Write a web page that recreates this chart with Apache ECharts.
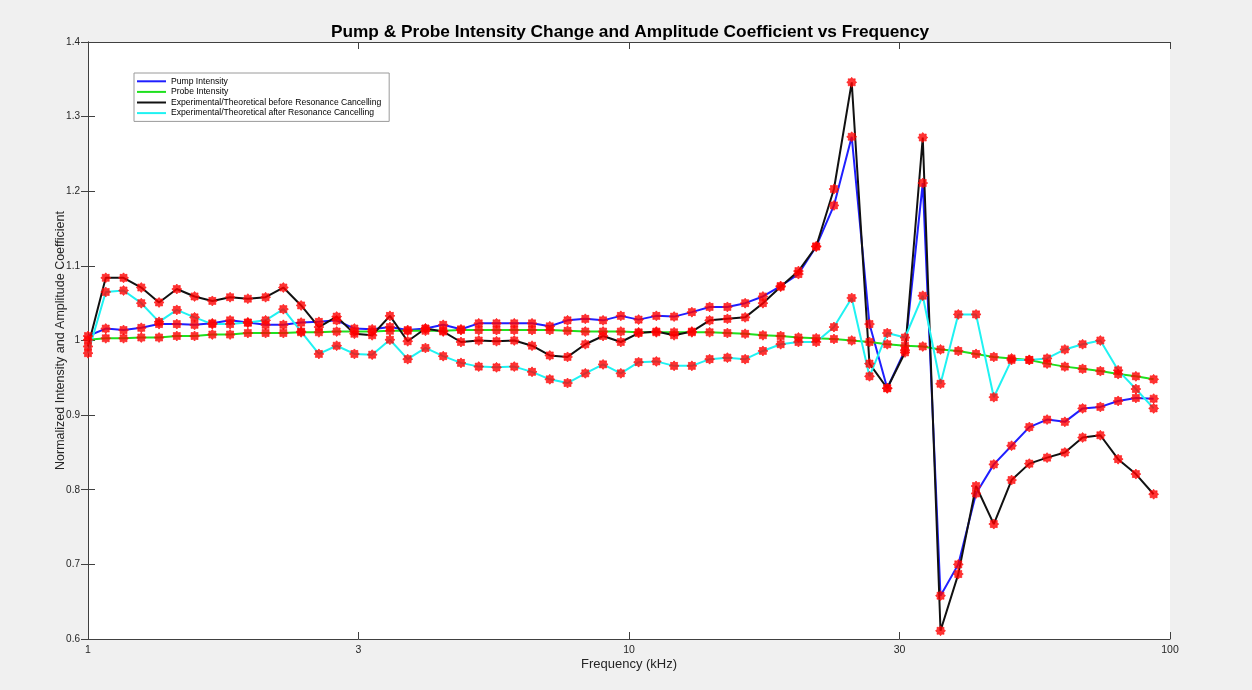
<!DOCTYPE html>
<html>
<head>
<meta charset="utf-8">
<script src="https://cdn.jsdelivr.net/npm/echarts@6/dist/echarts.min.js"></script>
<style>
html,body{margin:0;padding:0;background:#f0f0f0;}
#chart{width:1252px;height:690px;}
</style>
</head>
<body>
<div id="chart"></div>
<script>
// Frequencies (kHz)
const freqKHz = [1.000,1.0785,1.1633,1.2546,1.3531,1.4593,1.5739,1.6975,1.8308,1.9746,
  2.1296,2.2968,2.4772,2.6717,2.8815,3.1077,3.3518,3.6150,3.8988,4.2050,
  4.5352,4.8913,5.2754,5.6896,6.1364,6.6182,7.1379,7.6984,8.3029,8.9549,
  9.6581,10.417,11.234,12.116,13.068,14.094,15.201,16.394,17.682,19.070,
  20.568,22.183,23.925,25.803,27.829,30.015,32.372,34.913,37.655,40.612,
  43.801,47.240,50.949,54.950,59.265,63.919,68.938,74.351,80.190,86.486,93.277];

const pumpIntensity = [1.006,1.016,1.014,1.017,1.022,1.022,1.021,1.023,1.027,1.024,
  1.021,1.021,1.024,1.025,1.027,1.016,1.015,1.018,1.014,1.016,
  1.021,1.015,1.023,1.023,1.023,1.023,1.019,1.027,1.029,1.027,
  1.033,1.028,1.033,1.032,1.038,1.045,1.045,1.050,1.059,1.073,
  1.089,1.126,1.181,1.273,1.022,0.936,0.987,1.211,0.658,0.700,
  0.795,0.834,0.859,0.884,0.894,0.891,0.909,0.911,0.919,0.923,0.922];

const probeIntensity = [1.001,1.003,1.003,1.004,1.004,1.006,1.006,1.008,1.008,1.010,
  1.010,1.010,1.011,1.011,1.012,1.012,1.012,1.013,1.013,1.013,
  1.013,1.014,1.014,1.014,1.014,1.014,1.014,1.013,1.012,1.012,
  1.012,1.011,1.011,1.011,1.011,1.011,1.010,1.009,1.007,1.006,
  1.004,1.003,1.002,1.000,0.998,0.995,0.993,0.992,0.988,0.986,
  0.982,0.978,0.976,0.974,0.969,0.965,0.962,0.959,0.955,0.952,0.948];

const ratioBefore = [0.992,1.084,1.084,1.071,1.051,1.069,1.059,1.053,1.058,1.056,
  1.058,1.071,1.047,1.018,1.032,1.009,1.007,1.033,0.999,1.016,
  1.012,0.998,1.000,0.999,1.000,0.993,0.980,0.978,0.995,1.006,
  0.998,1.010,1.012,1.007,1.012,1.027,1.029,1.031,1.050,1.072,
  1.093,1.126,1.203,1.346,0.969,0.936,0.984,1.272,0.611,0.687,
  0.805,0.754,0.813,0.835,0.843,0.850,0.870,0.873,0.841,0.821,0.794];

const ratioAfter = [0.983,1.065,1.067,1.050,1.025,1.041,1.031,1.022,1.022,1.024,
  1.027,1.042,1.012,0.982,0.993,0.982,0.981,1.001,0.975,0.990,
  0.979,0.970,0.965,0.964,0.965,0.958,0.948,0.943,0.956,0.968,
  0.956,0.971,0.972,0.966,0.966,0.975,0.977,0.975,0.986,0.995,
  0.998,0.998,1.018,1.057,0.952,1.010,1.004,1.060,0.942,1.035,
  1.035,0.924,0.974,0.974,0.976,0.988,0.995,1.000,0.960,0.935,0.909];

const seriesNames = ['Pump Intensity','Probe Intensity',
  'Experimental/Theoretical before Resonance Cancelling',
  'Experimental/Theoretical after Resonance Cancelling'];
const seriesColors = ['#1f1fff','#1ee01e','#111111','#1ff2f2'];
const xTickLabels = ['1','3','10','30','100'];

const seriesValues = [pumpIntensity, probeIntensity, ratioBefore, ratioAfter];
const starPath = 'path://M20,10L16.65,12.75L17.07,17.07L12.75,16.65L10,20L7.25,16.65L2.93,17.07L3.35,12.75L0,10L3.35,7.25L2.93,2.93L7.25,3.35L10,0L12.75,3.35L17.07,2.93L16.65,7.25Z';

function pts(vals){ return vals.map((v,i)=>[Math.log10(freqKHz[i]), v]); }

const series = [];
seriesValues.forEach((vals, k) => {
  series.push({
    name: seriesNames[k], type: 'line', data: pts(vals),
    showSymbol: false, symbol: 'none', z: 2,
    lineStyle: {color: seriesColors[k], width: 2},
    itemStyle: {color: seriesColors[k]}
  });
});
seriesValues.forEach((vals, k) => {
  series.push({
    name: seriesNames[k] + ' markers', type: 'scatter', data: pts(vals),
    symbol: starPath, symbolSize: 10, z: 3,
    itemStyle: {color: '#ff0000', borderColor: '#ff1010', borderWidth: 0.8}
  });
});

const axisColor = '#404040';
const FONT = 'Liberation Sans, Arial, sans-serif';
const chart = echarts.init(document.getElementById('chart'), null, {renderer: 'canvas'});
chart.setOption({
  animation: false,
  backgroundColor: '#f0f0f0',
  title: {
    text: 'Pump & Probe Intensity Change and Amplitude Coefficient vs Frequency',
    left: 630, top: 24, textAlign: 'center', padding: 0,
    textStyle: {fontFamily: FONT, fontSize: 17.3, fontWeight: 'bold', color: '#000'}
  },
  legend: {
    orient: 'vertical', left: 134, top: 73,
    padding: [3, 8, 3, 3], itemGap: 0, itemWidth: 29, itemHeight: 2,
    backgroundColor: '#ffffff', borderColor: '#9a9a9a', borderWidth: 1,
    textStyle: {fontFamily: FONT, fontSize: 8.6, color: '#000', lineHeight: 10.6},
    data: seriesNames.map((n, k) => ({name: n, icon: 'rect', itemStyle: {color: seriesColors[k]}}))
  },
  grid: {left: 88, right: 82, top: 42, bottom: 51, show: true, backgroundColor: '#ffffff', borderWidth: 0},
  xAxis: [{
    type: 'value', min: 0, max: 2, interval: 0.5, position: 'bottom',
    name: 'Frequency (kHz)', nameLocation: 'middle', nameGap: 19, nameMoveOverlap: false,
    nameTextStyle: {fontFamily: FONT, fontSize: 13, color: '#262626'},
    axisLine: {show: true, lineStyle: {color: axisColor, width: 1}},
    axisTick: {show: true, inside: true, length: 7, lineStyle: {color: axisColor}},
    axisLabel: {margin: 6, fontFamily: FONT, fontSize: 10.5, color: '#262626',
      formatter: v => xTickLabels[Math.round(v / 0.5)]},
    splitLine: {show: false}
  }, {
    type: 'value', min: 0, max: 2, interval: 0.5, position: 'top',
    axisLine: {show: true, lineStyle: {color: axisColor, width: 1}},
    axisTick: {show: true, inside: true, length: 7, lineStyle: {color: axisColor}},
    axisLabel: {show: false}, splitLine: {show: false}
  }],
  yAxis: [{
    type: 'value', min: 0.6, max: 1.4, interval: 0.1, position: 'left',
    name: 'Normalized Intensity and Amplitude Coefficient', nameLocation: 'middle', nameGap: 21, nameRotate: 90,
    nameMoveOverlap: false,
    nameTextStyle: {fontFamily: FONT, fontSize: 12.5, color: '#262626'},
    axisLine: {show: true, lineStyle: {color: axisColor, width: 1}},
    axisTick: {show: true, inside: true, length: 7, lineStyle: {color: axisColor}},
    axisLabel: {margin: 8, fontFamily: FONT, fontSize: 10, color: '#262626',
      formatter: v => String(parseFloat(v.toFixed(1)))},
    splitLine: {show: false}
  }, {
    type: 'value', min: 0.6, max: 1.4, interval: 0.1, position: 'right',
    axisLine: {show: true, lineStyle: {color: axisColor, width: 1}},
    axisTick: {show: true, inside: true, length: 7, lineStyle: {color: axisColor}},
    axisLabel: {show: false}, splitLine: {show: false}
  }],
  series: series
});
</script>
</body>
</html>
